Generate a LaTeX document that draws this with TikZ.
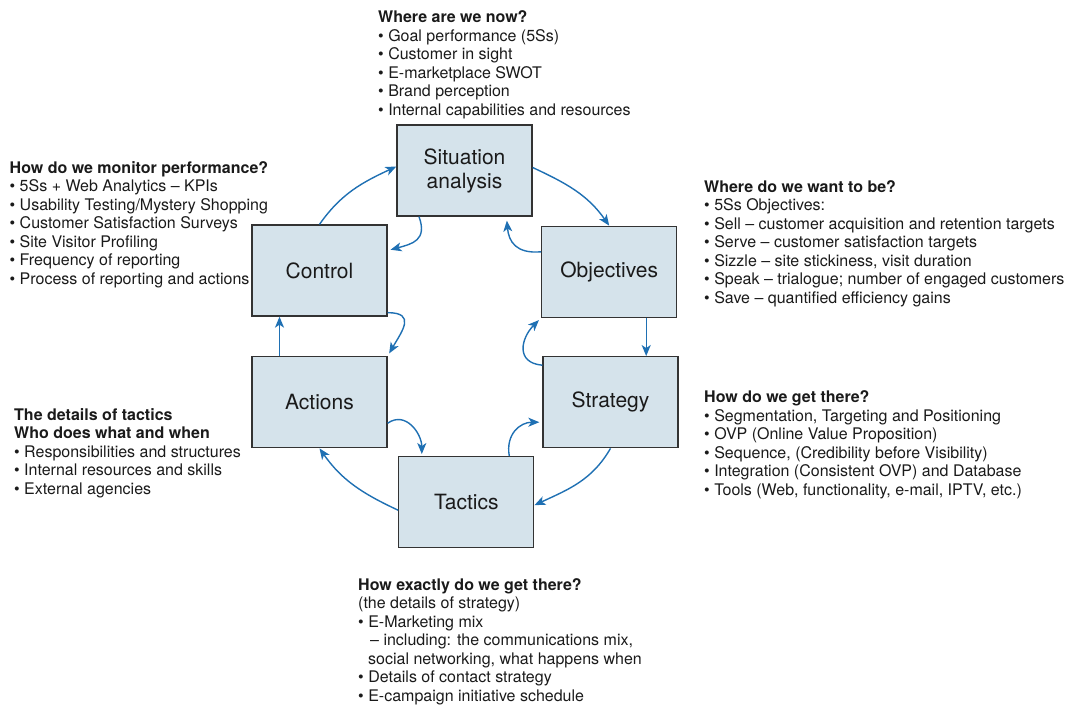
\documentclass[tikz,border=0pt]{standalone}
\usepackage{fontspec}
\setmainfont{TeX Gyre Heros}
\usetikzlibrary{arrows.meta}
\definecolor{boxfill}{HTML}{D5E3EB}
\definecolor{boxline}{HTML}{333333}
\definecolor{arrblue}{HTML}{1F70B3}
\definecolor{txt}{HTML}{1A1A1A}
\begin{document}
\begin{tikzpicture}[x=1pt,y=1pt,
  stage/.style={draw=boxline, line width=1.3pt, fill=boxfill, minimum width=135pt, minimum height=91pt, inner sep=0pt, align=center, font=\fontsize{21}{24}\selectfont, text=txt},
  info/.style={anchor=north west, inner sep=0pt, align=left, font=\fontsize{16}{18.5}\selectfont, text=txt},
  arr/.style={draw=arrblue, line width=1.4pt, -{Stealth[length=11pt,width=9pt,inset=3pt]}}]
\useasboundingbox (0,0) rectangle (1067,-705);
% stages
\node[stage] (sit) at (464.5,-170.5) {Situation\\analysis};
\node[stage] (ctl) at (319.5,-270.5) {Control};
\node[stage] (obj) at (609.2,-271.8) {Objectives};
\node[stage] (act) at (319.5,-402.2) {Actions};
\node[stage] (str) at (610.5,-402.2) {Strategy};
\node[stage] (tac) at (466.3,-502.2) {Tactics};
% text blocks
\node[info] (tnow) at (378,-9.7) {\strut\textbf{Where are we now?}\\
• Goal performance (5Ss)\\
• Customer in sight\\
• E-marketplace SWOT\\
• Brand perception\\
• Internal capabilities and resources};
\node[info] (tmon) at (9.5,-160.3) {\strut\textbf{How do we monitor performance?}\\
• 5Ss + Web Analytics – KPIs\\
• Usability Testing/Mystery Shopping\\
• Customer Satisfaction Surveys\\
• Site Visitor Profiling\\
• Frequency of reporting\\
• Process of reporting and actions};
\node[info] (twant) at (704,-179.3) {\strut\textbf{Where do we want to be?}\\
• 5Ss Objectives:\\
• Sell – customer acquisition and retention targets\\
• Serve – customer satisfaction targets\\
• Sizzle – site stickiness, visit duration\\
• Speak – trialogue; number of engaged customers\\
• Save – quantified efficiency gains};
\node[info] (tget) at (704,-389.5) {\strut\textbf{How do we get there?}\\
• Segmentation, Targeting and Positioning\\
• OVP (Online Value Proposition)\\
• Sequence, (Credibility before Visibility)\\
• Integration (Consistent OVP) and Database\\
• Tools (Web, functionality, e-mail, IPTV, etc.)};
\node[info] (ttac) at (14,-407) {\strut\textbf{The details of tactics}\\
\textbf{Who does what and when}\\
• Responsibilities and structures\\
• Internal resources and skills\\
• External agencies};
\node[info] (texact) at (358,-577) {\strut\textbf{How exactly do we get there?}\\
(the details of strategy)\\
• E-Marketing mix\\
\hspace*{12pt}– including: the communications mix,\\
\hspace*{10pt}social networking, what happens when\\
• Details of contact strategy\\
• E-campaign initiative schedule};
% main cycle
\draw[arr] (ctl.north) to[out=55,in=205] ([yshift=4pt]sit.west);
\draw[arr] ([yshift=3pt]sit.east) to[out=-25,in=125] (obj.north);
\draw[arr] ([xshift=37pt]obj.south) -- ([xshift=37pt]obj.south |- str.north);
\draw[arr] (str.south) to[out=-120,in=25] ([yshift=-3pt]tac.east);
\draw[arr] ([yshift=-8pt]tac.west) to[out=155,in=-55] (act.south);
\draw[arr] ([xshift=-40pt]act.north) -- ([xshift=-40pt]act.north |- ctl.south);
% feedback loops
\draw[arr, shorten >=3pt] ([xshift=-45.5pt]sit.south) to[out=-70,in=15,looseness=1.4] ([yshift=20pt]ctl.east);
\draw[arr, shorten >=4pt] ([yshift=20pt]obj.west) to[out=185,in=-85,looseness=1.3] ([xshift=42pt]sit.south);
\draw[arr, shorten >=3pt] ([yshift=4pt]ctl.south east) to[out=0,in=60,looseness=1.7] (act.north east);
\draw[arr, shorten >=3pt] ([yshift=37pt]str.west) to[out=175,in=225,looseness=1.5] (obj.south west);
\draw[arr, shorten >=2pt] ([yshift=-21pt]act.east) to[out=35,in=90,looseness=1.2] ([xshift=-44.5pt]tac.north);
\draw[arr, shorten >=3pt] ([xshift=43pt]tac.north) to[out=100,in=180,looseness=1.2] ([yshift=-20pt]str.west);
\end{tikzpicture}
\end{document}
